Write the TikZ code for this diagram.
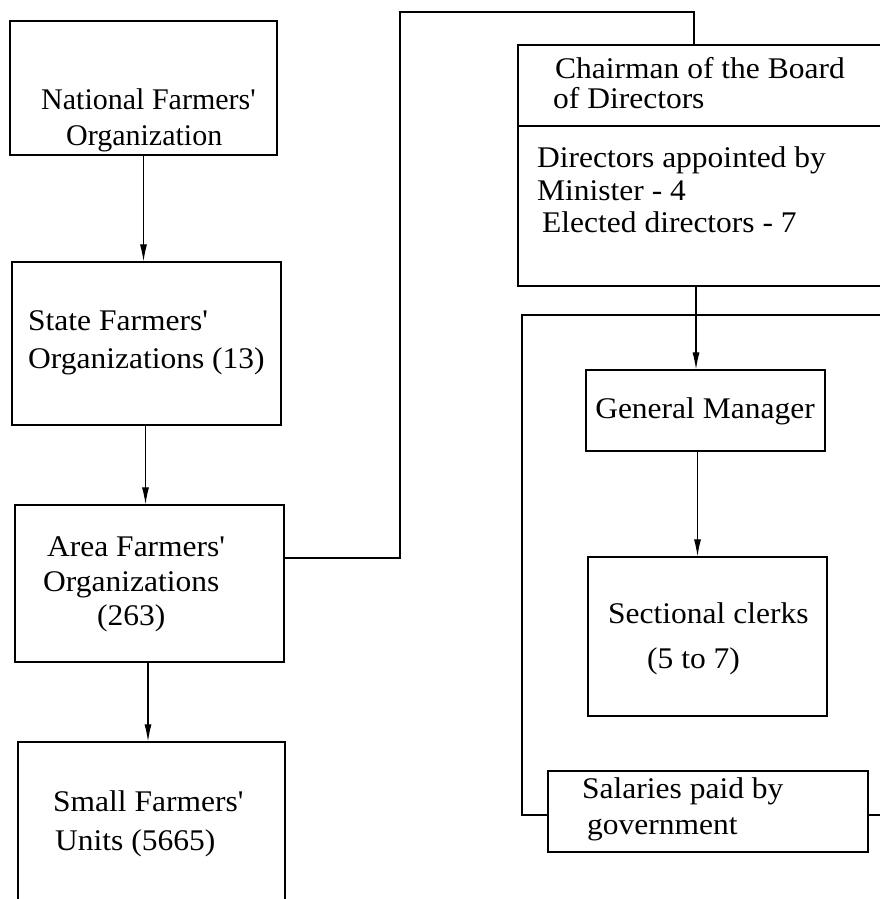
\documentclass[tikz,border=0pt]{standalone}
\usepackage{fontspec}
\setmainfont{Liberation Serif}[FakeStretch=1.05]
\newfontfamily\narrowserif{Liberation Serif}[FakeStretch=1.0]
\usetikzlibrary{arrows.meta}
\newcommand{\apos}{\textquotesingle}
\begin{document}
\begin{tikzpicture}[x=1pt,y=1pt,
  box/.style={draw, line width=1.1pt, inner sep=0pt, fill=white},
  lbl/.style={anchor=base west, inner sep=0pt, font=\fontsize{30}{34}\selectfont},
  arr/.style={line width=1.1pt, -{Latex[length=17pt,width=7pt]}},
  wire/.style={line width=1.1pt}]
\useasboundingbox (0,0) rectangle (880,899);
\clip (0,0) rectangle (880,899);

% left column: farmers' organizations
\node[box, minimum width=267pt, minimum height=134pt] (nat) at (143.5,811) {};
\node[box, minimum width=269pt, minimum height=163pt] (state) at (146.5,555.5) {};
\node[box, minimum width=269pt, minimum height=157pt] (area) at (149.5,315.5) {};
\node[box, minimum width=267pt, minimum height=168pt] (small) at (151.5,73) {};

\node[lbl, font=\narrowserif\fontsize{30}{34}\selectfont] (t1) at (41,789) {National Farmers\apos};
\node[lbl, font=\narrowserif\fontsize{30}{34}\selectfont] (t2) at (66,753) {Organization};
\node[lbl] (t3) at (28,568) {State Farmers\apos};
\node[lbl] (t4) at (28,530) {Organizations (13)};
\node[lbl] (t5) at (47,342) {Area Farmers\apos};
\node[lbl] (t6) at (43,307) {Organizations};
\node[lbl] (t7) at (97,273) {(263)};
\node[lbl] (t8) at (53,87) {Small Farmers\apos};
\node[lbl] (t9) at (55,48) {Units (5665)};

% right column: the board and its staff
\draw[wire] (522,84) rectangle (900,584);
\node[box, minimum width=382pt, minimum height=241pt] (chair) at (709,733.5) {};
\draw[wire] (chair.west |- 0,773) -- (900,773);
\node[box, minimum width=239pt, minimum height=81pt] (gm) at (705.5,488.5) {};
\node[box, minimum width=239pt, minimum height=159pt] (sc) at (707.5,262.5) {};
\node[box, minimum width=320pt, minimum height=81pt] (sal) at (708,87.5) {};

\node[lbl] (c1) at (555,820) {Chairman of the Board};
\node[lbl] (c2) at (553,790) {of Directors};
\node[lbl] (c3) at (537,731) {Directors appointed by};
\node[lbl] (c4) at (537,698) {Minister - 4};
\node[lbl] (c5) at (542,666) {Elected directors - 7};
\node[lbl, anchor=base] (g1) at (705,480) {General Manager};
\node[lbl] (s1) at (608,275) {Sectional clerks};
\node[lbl] (s2) at (647,230) {(5 to 7)};
\node[lbl] (p1) at (582,100) {Salaries paid by};
\node[lbl] (p2) at (587,64) {government};

% connectors
\coordinate (turn) at (400,887);
\draw[arr] (nat.south) -- (nat.south |- state.north);
\draw[arr] ([xshift=-1pt]state.south) -- ([xshift=-1pt]state.south |- area.north);
\draw[arr] ([xshift=-1.5pt]area.south) -- ([xshift=-1.5pt]area.south |- small.north);
\draw[wire] ([yshift=25.5pt]area.east) -| (turn) -| ([xshift=-15pt]chair.north);
\draw[arr] ([xshift=-13pt]chair.south) -- ([xshift=-13pt]chair.south |- gm.north);
\draw[arr] ([xshift=-8pt]gm.south) -- ([xshift=-8pt]gm.south |- sc.north);
\end{tikzpicture}
\end{document}
